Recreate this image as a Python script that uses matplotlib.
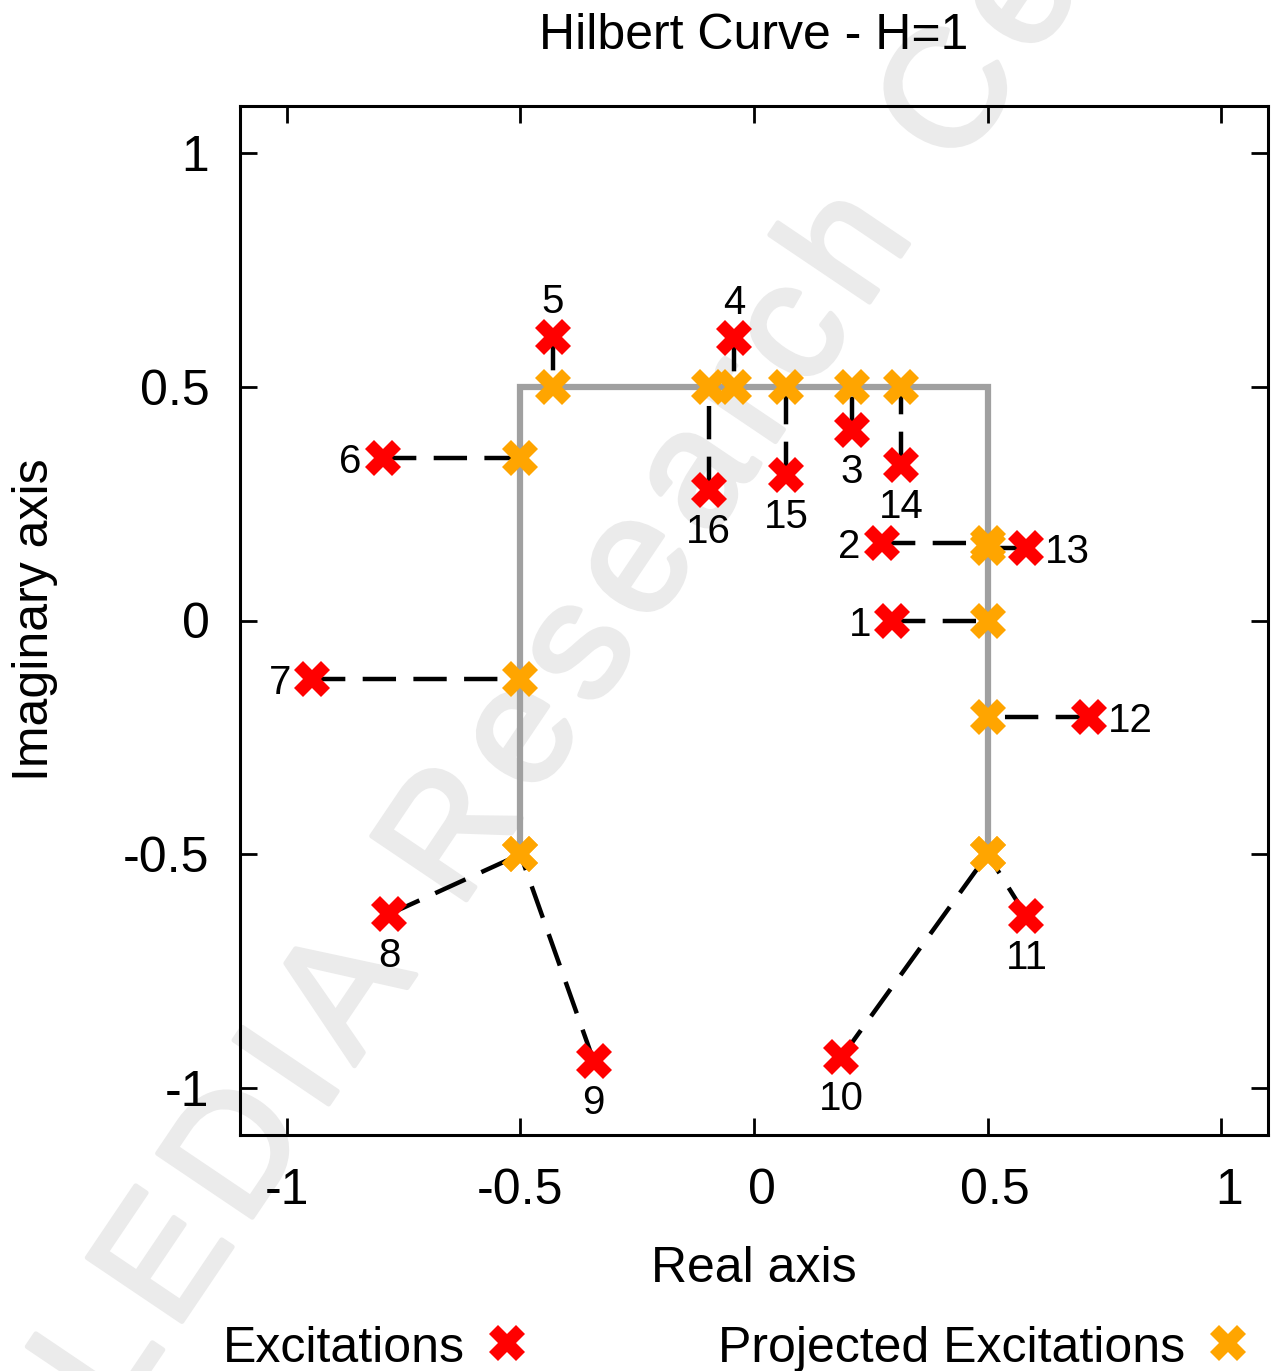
import numpy as np
import matplotlib
matplotlib.use("Agg")
import matplotlib.pyplot as plt
from matplotlib.lines import Line2D
from matplotlib.patches import PathPatch
from matplotlib.textpath import TextPath
from matplotlib.transforms import Affine2D, ScaledTranslation
from matplotlib.font_manager import FontProperties, findfont
from matplotlib.ft2font import FT2Font

plt.rcParams["font.family"] = ["Liberation Sans", "DejaVu Sans"]
plt.rcParams["lines.scale_dashes"] = False

# Hilbert curve of order H=1
curve_re = [-0.5, -0.5, 0.5, 0.5]
curve_im = [-0.5, 0.5, 0.5, -0.5]

# excitations (complex plane) and their projections onto the curve
exc_re = [0.296, 0.273, 0.210, -0.042, -0.431, -0.795, -0.945, -0.781,
          -0.343, 0.187, 0.583, 0.716, 0.582, 0.315, 0.069, -0.097]
exc_im = [0.0, 0.165, 0.407, 0.604, 0.606, 0.348, -0.126, -0.628,
          -0.942, -0.934, -0.632, -0.206, 0.156, 0.333, 0.311, 0.279]
proj_re = [0.5, 0.5, 0.210, -0.042, -0.431, -0.5, -0.5, -0.5,
           -0.5, 0.5, 0.5, 0.5, 0.5, 0.315, 0.069, -0.097]
proj_im = [0.0, 0.165, 0.5, 0.5, 0.5, 0.348, -0.126, -0.5,
           -0.5, -0.5, -0.5, -0.206, 0.156, 0.5, 0.5, 0.5]
point_labels = ["1", "2", "3", "4", "5", "6", "7", "8",
                "9", "10", "11", "12", "13", "14", "15", "16"]
label_side = ["left", "left", "below", "above", "above", "left", "left", "below",
              "below", "below", "below", "right", "right", "below", "below", "below"]

xticks = [-1, -0.5, 0, 0.5, 1]
xtick_labels = ["-1", "-0.5", "0", "0.5", "1"]
yticks = [-1, -0.5, 0, 0.5, 1]
ytick_labels = ["-1", "-0.5", "0", "0.5", "1"]

W, H = 1273, 1371
fig = plt.figure(figsize=(W / 100, H / 100), dpi=100)
ax = fig.add_axes([240 / W, 1 - 1135 / H, (1268 - 240) / W, (1135 - 106) / H])
ax.set_facecolor("none")

# background watermark, set letter by letter with extra tracking
WM_TEXT = "ELEDIA Research Center"
WM_EM = 166.0        # em size in pixels
WM_TRACK = 15.0      # extra spacing between letters in pixels
WM_ANGLE = 56.0
WM_ORIGIN = (44.0, H - 1526.0)   # pen start, display pixels
WM_COLOR = "#ebebeb"
wm_prop = FontProperties(family="Liberation Sans")
wm_font = FT2Font(findfont(wm_prop))
wm_font.set_size(WM_EM, 72)
ang = np.deg2rad(WM_ANGLE)
ux, uy = np.cos(ang), np.sin(ang)
pen = 0.0
for ch in WM_TEXT:
    glyph = wm_font.load_char(ord(ch))
    adv = glyph.linearHoriAdvance / 65536.0
    if ch != " ":
        path = TextPath((0, 0), ch, size=WM_EM, prop=wm_prop)
        tr = Affine2D().rotate_deg(WM_ANGLE).translate(
            WM_ORIGIN[0] + pen * ux, WM_ORIGIN[1] + pen * uy)
        patch = PathPatch(path, transform=tr, facecolor=WM_COLOR,
                          edgecolor=WM_COLOR, lw=3.5, joinstyle="round",
                          zorder=-5)
        fig.add_artist(patch)
    pen += adv + WM_TRACK

RED = "#ff0000"
ORANGE = "#ffa500"
FS = 36

ax.plot(curve_re, curve_im, color="#a0a0a0", lw=4.5, zorder=1,
        solid_joinstyle="miter", solid_capstyle="butt")
for xr, yr, xp, yp in zip(exc_re, exc_im, proj_re, proj_im):
    ax.plot([xr, xp], [yr, yp], color="black", lw=3.2, dashes=(24, 12.5),
            dash_capstyle="butt", zorder=2)
ax.plot(proj_re, proj_im, ls="none", marker="X", ms=26, mew=0,
        color=ORANGE, zorder=3)
ax.plot(exc_re, exc_im, ls="none", marker="X", ms=26, mew=0,
        color=RED, zorder=4)

offsets = {"below": ((0, -38), "center"), "above": ((0, 17.3), "center"),
           "left": ((-15, -10.8), "right"), "right": ((13.7, -10.8), "left")}
for x, y, lab, side in zip(exc_re, exc_im, point_labels, label_side):
    off, ha = offsets[side]
    ax.annotate(lab, (x, y), xytext=off, textcoords="offset points",
                ha=ha, va="baseline", fontsize=29, zorder=5)

ax.set_xlim(-1.1, 1.1)
ax.set_ylim(-1.1, 1.1)
ax.set_xticks(xticks, xtick_labels)
ax.set_yticks(yticks, ytick_labels)
ax.tick_params(direction="in", length=12, width=2, labelsize=FS,
               top=True, right=True)
ax.tick_params(axis="x", pad=24)
ax.tick_params(axis="y", pad=22)
# unsigned x labels sit a little to the right of their ticks
shift = ScaledTranslation(5.5 / 72, 0, fig.dpi_scale_trans)
for tick in ax.xaxis.get_major_ticks():
    if not tick.label1.get_text().startswith("-"):
        tick.label1.set_transform(tick.label1.get_transform() + shift)
for s in ax.spines.values():
    s.set_linewidth(2.2)

fig.text(754 / W, 1 - 49 / H, "Hilbert Curve - H=1", ha="center",
         va="baseline", fontsize=FS)
fig.text(754 / W, 1 - 1282 / H, "Real axis", ha="center", va="baseline",
         fontsize=FS)
fig.text(48 / W, 1 - 620 / H, "Imaginary axis", rotation=90,
         rotation_mode="anchor", ha="center", va="baseline", fontsize=FS)

# key
fig.text(465 / W, 1 - 1362 / H, "Excitations", ha="right", va="baseline",
         fontsize=FS)
fig.add_artist(Line2D([507 / W], [1 - 1343 / H], transform=fig.transFigure,
                      ls="none", marker="X", ms=26, mew=0, color=RED))
fig.text(1185 / W, 1 - 1362 / H, "Projected Excitations", ha="right",
         va="baseline", fontsize=FS)
fig.add_artist(Line2D([1228 / W], [1 - 1343 / H], transform=fig.transFigure,
                      ls="none", marker="X", ms=26, mew=0, color=ORANGE))

fig.savefig("out.png", dpi=100)
